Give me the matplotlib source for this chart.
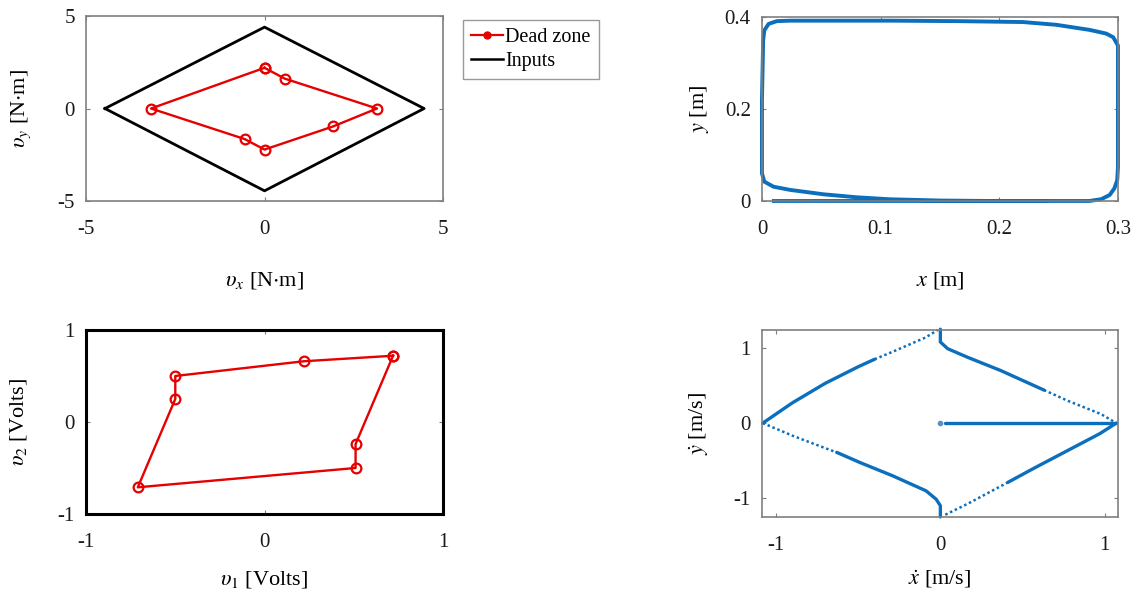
import matplotlib.pyplot as plt
from matplotlib.lines import Line2D

plt.rcParams['font.family'] = ['Liberation Serif', 'DejaVu Serif']
plt.rcParams['mathtext.fontset'] = 'stix'

RED = '#e60000'
BLUE = '#0b6fbd'
GRAY = '#7f7f7f'

# dead zone polygon and input limits (N.m)
dz_x = [0.0, 0.56, 3.15, 1.92, 0.0, -0.56, -3.18, 0.0]
dz_y = [2.2, 1.62, 0.0, -0.97, -2.22, -1.65, 0.0, 2.2]
inp_x = [-4.47, 0.0, 4.47, 0.0, -4.47]
inp_y = [0.0, 4.4, 0.0, -4.45, 0.0]

# voltage dead zone
volt_x = [0.72, 0.22, -0.50, -0.50, -0.71, 0.51, 0.51, 0.72]
volt_y = [0.72, 0.66, 0.50, 0.25, -0.71, -0.50, -0.24, 0.72]

# x-y trajectory (m)
traj_x = [0.010, 0.150, 0.240, 0.276, 0.286, 0.293, 0.297, 0.2994, 0.300, 0.300, 0.300,
          0.296, 0.290, 0.276, 0.248, 0.220, 0.164, 0.108, 0.024, 0.0126, 0.0056,
          0.002, 0.001, 0.000, 0.000, 0.002, 0.0098, 0.024, 0.052, 0.080, 0.108,
          0.150, 0.192, 0.240]
traj_y = [0.000, 0.000, 0.000, 0.000, 0.004, 0.013, 0.0275, 0.0455, 0.074, 0.200, 0.338,
          0.356, 0.364, 0.372, 0.383, 0.389, 0.391, 0.392, 0.392, 0.391, 0.385,
          0.371, 0.349, 0.219, 0.060, 0.042, 0.031, 0.024, 0.0145, 0.008, 0.0037,
          0.001, 0.000, 0.000]

# velocity phase plane (m/s): solid and sparse (dotted) parts of each branch
ul_solid_x = [-1.08, -0.90, -0.70, -0.50, -0.40]
ul_solid_y = [0.0, 0.27, 0.53, 0.75, 0.85]
ul_dot_x = [-0.40, -0.29, -0.09, -0.016]
ul_dot_y = [0.85, 0.95, 1.14, 1.24]

ur_solid_x = [0.0, 0.0, 0.045, 0.166, 0.369, 0.571, 0.63]
ur_solid_y = [1.25, 1.08, 0.99, 0.876, 0.698, 0.498, 0.44]
ur_dot_x = [0.63, 0.774, 0.977, 1.07]
ur_dot_y = [0.44, 0.298, 0.12, 0.0]

ll_dot_x = [-1.08, -0.898, -0.695, -0.63]
ll_dot_y = [0.0, -0.169, -0.338, -0.39]
ll_solid_x = [-0.63, -0.49, -0.29, -0.087, -0.026, 0.0, 0.0]
ll_solid_y = [-0.39, -0.524, -0.702, -0.902, -1.013, -1.10, -1.25]

lr_dot_x = [0.03, 0.17, 0.41]
lr_dot_y = [-1.22, -1.07, -0.79]
lr_solid_x = [0.41, 0.57, 0.77, 0.97, 1.07]
lr_solid_y = [-0.79, -0.60, -0.37, -0.14, 0.0]

hor_x = [0.03, 1.07]
hor_y = [0.0, 0.0]

fig = plt.figure(figsize=(11.41, 5.98), dpi=100)


def style(ax, edge=GRAY, lw=1.2):
    for s in ax.spines.values():
        s.set_color(edge)
        s.set_linewidth(lw)
    ax.tick_params(direction='in', length=3, width=0.8, color=GRAY, top=True, right=True,
                   labelsize=15, labelcolor='#1a1a1a')
    ax.tick_params(axis='x', pad=14)
    ax.tick_params(axis='y', pad=8)


# torque dead zone
ax1 = fig.add_axes([0.0754, 0.6639, 0.3129, 0.3093])
ax1.plot(dz_x, dz_y, color=RED, lw=1.7, marker='o', ms=7, mfc='none', mew=1.6)
ax1.plot(inp_x, inp_y, color='black', lw=2.0)
ax1.set_xlim(-5, 5)
ax1.set_ylim(-5, 5)
ax1.set_xticks([-5, 0, 5], ['-5', '0', '5'])
ax1.set_yticks([-5, 0, 5], ['-5', '0', '5'])
style(ax1)
ax1.set_xlabel(r'$\upsilon_x$ [N$\cdot$m]', fontsize=16, labelpad=22)
ax1.set_ylabel(r'$\upsilon_y$ [N$\cdot$m]', fontsize=16, labelpad=18)
handles = [Line2D([], [], color=RED, lw=1.6, marker='o', ms=5),
           Line2D([], [], color='black', lw=1.8)]
leg = ax1.legend(handles, ['Dead zone', 'Inputs'], loc='upper left',
                 bbox_to_anchor=(463 / 1141, 1 - 20 / 598), bbox_transform=fig.transFigure,
                 fontsize=14.5, fancybox=False, edgecolor='#999999', framealpha=1,
                 borderaxespad=0, borderpad=0.4, handlelength=1.6, handletextpad=0.1,
                 labelspacing=0.25)
leg.get_frame().set_linewidth(1.0)

# cartesian path
ax2 = fig.add_axes([0.6678, 0.6639, 0.312, 0.3077])
ax2.plot(traj_x, traj_y, color=BLUE, lw=2.8, clip_on=False, solid_joinstyle='round')
ax2.set_xlim(0, 0.3)
ax2.set_ylim(0, 0.4)
ax2.set_xticks([0, 0.1, 0.2, 0.3], ['0', '0.1', '0.2', '0.3'])
ax2.set_yticks([0, 0.2, 0.4], ['0', '0.2', '0.4'])
style(ax2)
ax2.set_xlabel(r'$x$ [m]', fontsize=16, labelpad=22)
ax2.set_ylabel(r'$y$ [m]', fontsize=16, labelpad=10)

# voltage dead zone
ax3 = fig.add_axes([0.0754, 0.1405, 0.3129, 0.3077])
ax3.plot(volt_x, volt_y, color=RED, lw=1.7, marker='o', ms=7, mfc='none', mew=1.6)
ax3.set_xlim(-1, 1)
ax3.set_ylim(-1, 1)
ax3.set_xticks([-1, 0, 1], ['-1', '0', '1'])
ax3.set_yticks([-1, 0, 1], ['-1', '0', '1'])
style(ax3, edge='black', lw=2.2)
ax3.set_xlabel(r'$\upsilon_1$ [Volts]', fontsize=16, labelpad=12)
ax3.set_ylabel(r'$\upsilon_2$ [Volts]', fontsize=16, labelpad=21)

# velocity phase plane
ax4 = fig.add_axes([0.6678, 0.1355, 0.312, 0.3127])
kw = dict(color=BLUE, clip_on=False, solid_capstyle='round')
for sx, sy in [(ul_solid_x, ul_solid_y), (ur_solid_x, ur_solid_y),
               (ll_solid_x, ll_solid_y), (lr_solid_x, lr_solid_y), (hor_x, hor_y)]:
    ax4.plot(sx, sy, lw=2.4, **kw)
for dx, dy in [(ul_dot_x, ul_dot_y), (ur_dot_x, ur_dot_y),
               (ll_dot_x, ll_dot_y), (lr_dot_x, lr_dot_y)]:
    ax4.plot(dx, dy, lw=1.8, ls=(0, (1, 1.1)), **kw)
ax4.plot([0], [0], 'o', color='#5b8fbf', ms=3)
ax4.set_xlim(-1.085, 1.08)
ax4.set_ylim(-1.25, 1.24)
ax4.set_xticks([-1, 0, 1], ['-1', '0', '1'])
ax4.set_yticks([-1, 0, 1], ['-1', '0', '1'])
style(ax4)
ax4.set_xlabel(r'$\dot{x}$ [m/s]', fontsize=16, labelpad=9)
ax4.set_ylabel(r'$\dot{y}$ [m/s]', fontsize=16, labelpad=16)

fig.savefig('out.png', dpi=100)
